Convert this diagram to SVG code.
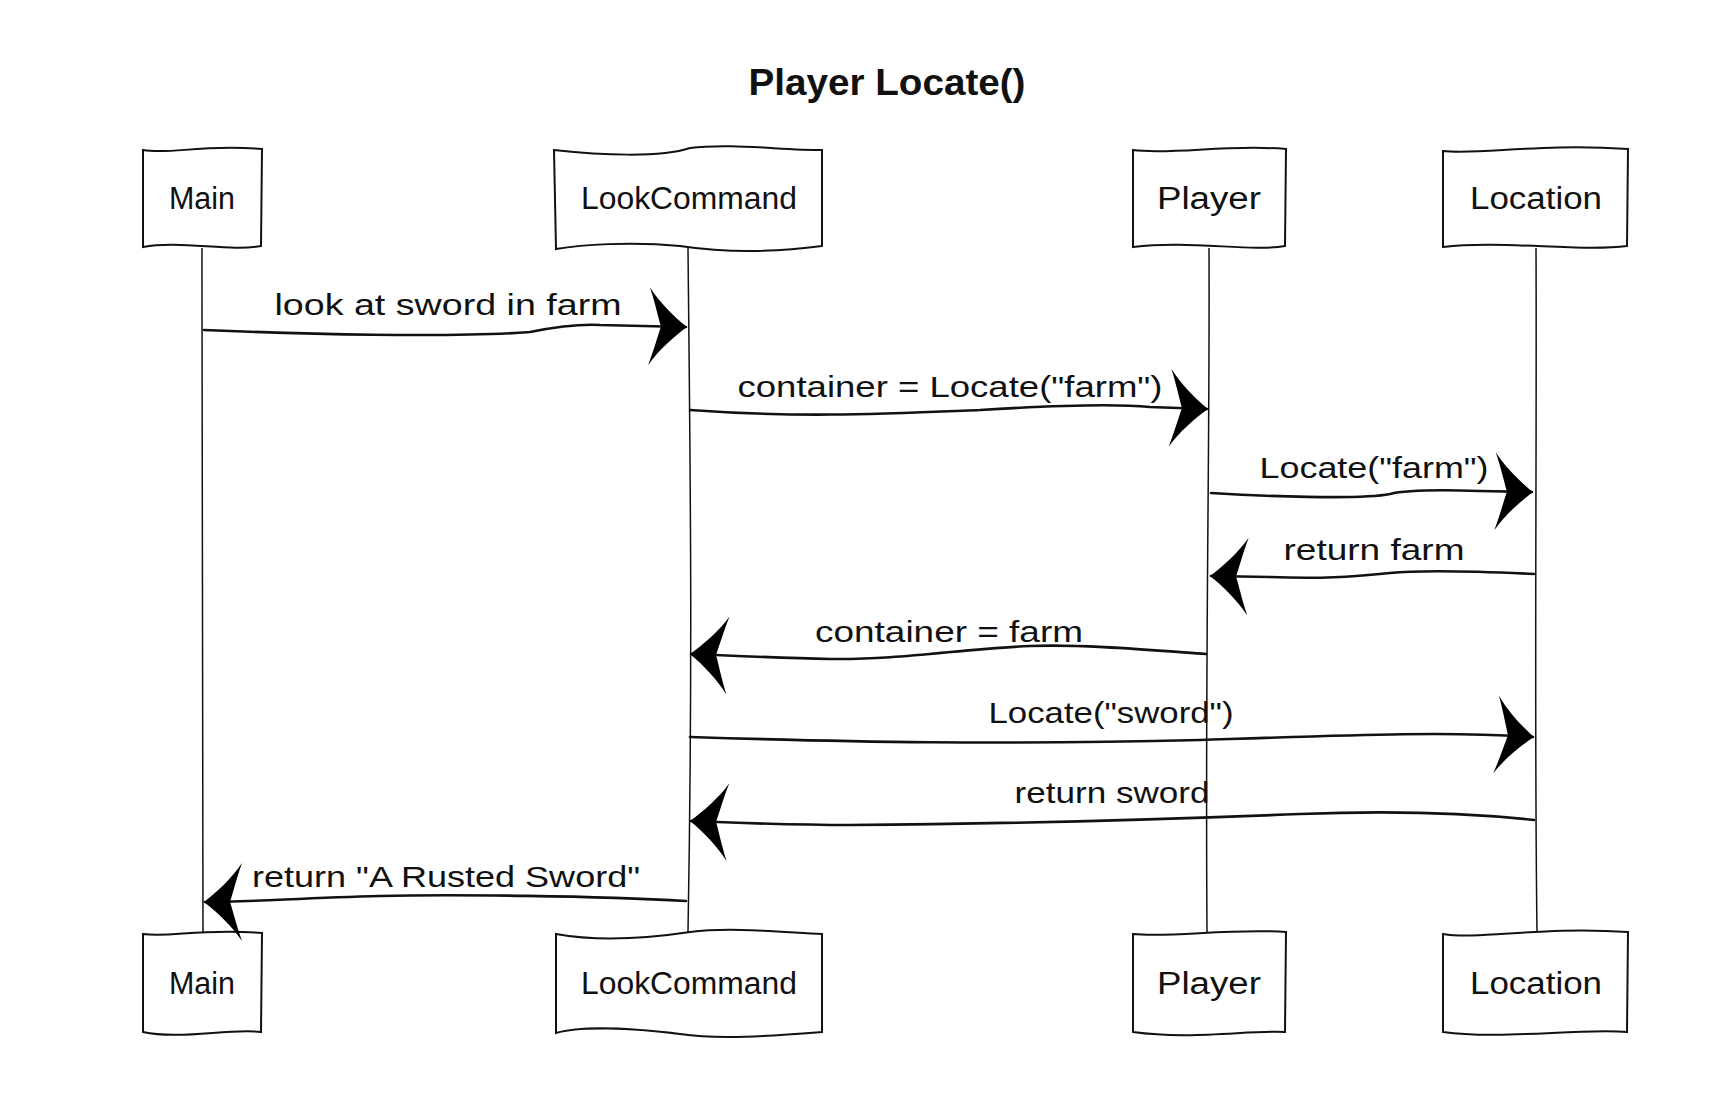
<svg xmlns="http://www.w3.org/2000/svg" width="1720" height="1093" viewBox="0 0 1720 1093">
<style>
.box{fill:#fff;stroke:#111;stroke-width:2}
.life{fill:none;stroke:#111;stroke-width:1.5}
.msg{fill:none;stroke:#111;stroke-width:2.6;stroke-linecap:round}
.lbl{font-family:"Liberation Sans",Arial,sans-serif;font-size:30px;fill:#111;text-anchor:middle}
.nlbl{font-family:"Liberation Sans",Arial,sans-serif;font-size:31px;fill:#111;text-anchor:middle}
.title{font-family:"Liberation Sans",Arial,sans-serif;font-size:36px;font-weight:bold;fill:#111;text-anchor:middle}
</style>
<defs>
<marker id="ah" markerUnits="userSpaceOnUse" markerWidth="50" markerHeight="90" viewBox="-45 -45 50 90" refX="0" refY="0" orient="auto" overflow="visible">
<path d="M1,0 C-12,-10 -27,-24 -37,-39 C-31,-22 -28,-9 -25,0 C-28,9 -31,22 -37,39 C-27,24 -12,10 1,0 Z" fill="#000"/>
</marker>
</defs>
<rect width="1720" height="1093" fill="#fff"/>
<text class="title" x="887" y="95" textLength="277" lengthAdjust="spacingAndGlyphs">Player Locate()</text>

<g id="lifelines">
<path class="life" d="M202,248 C201,450 204,650 203,932"/>
<path class="life" d="M688,248 C690,450 693,650 688,932"/>
<path class="life" d="M1209,248 C1210,450 1205,650 1207,932"/>
<path class="life" d="M1536,248 C1537,450 1534,700 1537,932"/>
</g>

<g id="node-main-top">
<path class="box" d="M143,150 C170,155 200,144 262,149 L261,246 C230,252 180,240 143,247 Z"/>
<text class="nlbl" x="202" y="209" textLength="66" lengthAdjust="spacingAndGlyphs">Main</text>
</g>
<g id="node-lookcommand-top">
<path class="box" d="M554,150 C600,155 660,158 690,148 C730,143 780,150 822,150 L822,246 C770,253 720,252 680,246 C630,241 580,245 556,249 Z"/>
<text class="nlbl" x="689" y="209" textLength="216" lengthAdjust="spacingAndGlyphs">LookCommand</text>
</g>
<g id="node-player-top">
<path class="box" d="M1133,150 C1170,155 1230,144 1286,149 L1285,246 C1250,252 1190,240 1133,247 Z"/>
<text class="nlbl" x="1209" y="209" textLength="104" lengthAdjust="spacingAndGlyphs">Player</text>
</g>
<g id="node-location-top">
<path class="box" d="M1443,151 C1480,155 1540,143 1628,149 L1627,246 C1580,252 1500,240 1443,247 Z"/>
<text class="nlbl" x="1536" y="209" textLength="132" lengthAdjust="spacingAndGlyphs">Location</text>
</g>

<g id="node-main-bottom">
<path class="box" d="M143,934 C170,938 200,928 262,933 L261,1032 C230,1028 180,1040 143,1032 Z"/>
<text class="nlbl" x="202" y="994" textLength="66" lengthAdjust="spacingAndGlyphs">Main</text>
</g>
<g id="node-lookcommand-bottom">
<path class="box" d="M556,934 C600,942 650,938 690,932 C730,927 780,932 822,934 L822,1032 C770,1036 720,1040 680,1034 C630,1028 580,1026 556,1033 Z"/>
<text class="nlbl" x="689" y="994" textLength="216" lengthAdjust="spacingAndGlyphs">LookCommand</text>
</g>
<g id="node-player-bottom">
<path class="box" d="M1133,934 C1170,938 1230,928 1286,932 L1285,1032 C1250,1030 1190,1040 1133,1032 Z"/>
<text class="nlbl" x="1209" y="994" textLength="104" lengthAdjust="spacingAndGlyphs">Player</text>
</g>
<g id="node-location-bottom">
<path class="box" d="M1443,934 C1480,940 1540,926 1628,932 L1627,1032 C1580,1028 1500,1040 1443,1032 Z"/>
<text class="nlbl" x="1536" y="994" textLength="132" lengthAdjust="spacingAndGlyphs">Location</text>
</g>

<g id="connectors">
<path class="msg" marker-end="url(#ah)" d="M204,330 C300,334 450,338 530,332 C560,326 580,324 600,325 L686,327"/>
<text class="lbl" x="448" y="315" textLength="347" lengthAdjust="spacingAndGlyphs">look at sword in farm</text>

<path class="msg" marker-end="url(#ah)" d="M690,410 C800,418 880,414 980,410 C1060,405 1120,404 1150,407 L1207,409"/>
<text class="lbl" x="950" y="397" textLength="425" lengthAdjust="spacingAndGlyphs">container = Locate("farm")</text>

<path class="msg" marker-end="url(#ah)" d="M1211,493 C1260,496 1360,500 1390,494 C1410,489 1450,490 1480,491 L1532,492"/>
<text class="lbl" x="1374" y="478" textLength="229" lengthAdjust="spacingAndGlyphs">Locate("farm")</text>

<path class="msg" marker-end="url(#ah)" d="M1534,574 C1470,571 1420,570 1390,573 C1350,577 1320,579 1270,577 L1211,576"/>
<text class="lbl" x="1374" y="560" textLength="181" lengthAdjust="spacingAndGlyphs">return farm</text>

<path class="msg" marker-end="url(#ah)" d="M1206,654 C1150,650 1080,644 1030,646 C960,649 900,660 830,659 C780,658 740,656 691,654"/>
<text class="lbl" x="949" y="642" textLength="268" lengthAdjust="spacingAndGlyphs">container = farm</text>

<path class="msg" marker-end="url(#ah)" d="M690,737 C850,742 1000,745 1200,740 C1350,735 1450,731 1533,737"/>
<text class="lbl" x="1111" y="723" textLength="245" lengthAdjust="spacingAndGlyphs">Locate("sword")</text>

<path class="msg" marker-end="url(#ah)" d="M1534,820 C1470,813 1400,810 1300,814 C1150,820 1000,824 850,825 C780,825 720,822 691,821"/>
<text class="lbl" x="1112" y="803" textLength="195" lengthAdjust="spacingAndGlyphs">return sword</text>

<path class="msg" marker-end="url(#ah)" d="M686,901 C600,896 450,894 380,896 C300,898 250,902 205,902"/>
<text class="lbl" x="446" y="887" textLength="388" lengthAdjust="spacingAndGlyphs">return "A Rusted Sword"</text>
</g>
</svg>
